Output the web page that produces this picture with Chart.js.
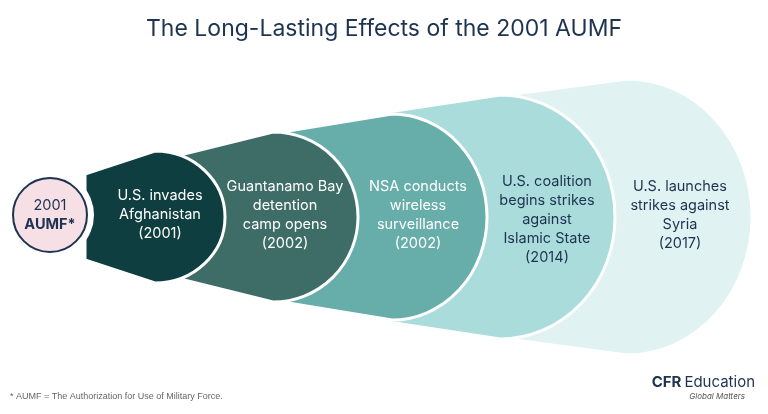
<!DOCTYPE html>
<html><head><meta charset="utf-8">
<script src="https://cdn.jsdelivr.net/npm/chart.js@4"></script>
<style>html,body{margin:0;padding:0;background:#fff;}#w{position:relative;width:768px;height:414px;}</style>
</head><body><div id="w"><canvas id="c" width="768" height="414"></canvas></div>
<script>
const stages = [
  ["2001", "AUMF*"],
  ["U.S. invades", "Afghanistan", "(2001)"],
  ["Guantanamo Bay", "detention", "camp opens", "(2002)"],
  ["NSA conducts", "wireless", "surveillance", "(2002)"],
  ["U.S. coalition", "begins strikes", "against", "Islamic State", "(2014)"],
  ["U.S. launches", "strikes against", "Syria", "(2017)"]
];
const years = [2001, 2001, 2002, 2002, 2014, 2017];
const title = "The Long-Lasting Effects of the 2001 AUMF";
const footnote = "* AUMF = The Authorization for Use of Military Force.";

// layout geometry (in axis units = px)
const geom = [
  {cx:50, rx:37, ry:37, x0:0, h0:0, tx:50, ty:215},
  {cx:155, rx:70, ry:66, x0:85, h0:43, tx:160, ty:215},
  {cx:273, rx:85, ry:85, x0:172, h0:60, tx:285, ty:215},
  {cx:392, rx:95, ry:103, x0:282, h0:85, tx:418, ty:215},
  {cx:500, rx:115, ry:122, x0:388, h0:105, tx:547, ty:220},
  {cx:627, rx:125, ry:138, x0:492, h0:120, tx:680, ty:215}
];
const fills = ["#f6dfe5","#0e3e40","#3e6d68","#67aeaa","#abdcdc","#e0f2f2"];
const textCol = ["#1d3350","#ffffff","#ffffff","#ffffff","#1d3350","#1d3350"];
const CY = 217;

const shapes = {
  id:'shapes',
  beforeDatasetsDraw(chart){
    const {ctx, scales:{x,y}} = chart;
    const px=v=>x.getPixelForValue(v), py=v=>y.getPixelForValue(v);
    ctx.save();
    for(let i=geom.length-1;i>=1;i--){
      const g=geom[i];
      const cx=px(g.cx), cy=py(CY), rx=px(g.cx+g.rx)-cx, ry=Math.abs(py(CY+g.ry)-cy);
      ctx.beginPath();
      ctx.moveTo(px(g.x0), py(CY-g.h0));
      ctx.lineTo(cx, cy-ry);
      ctx.ellipse(cx, cy, rx, ry, 0, -Math.PI/2, Math.PI/2);
      ctx.lineTo(px(g.x0), py(CY+g.h0));
      ctx.closePath();
      ctx.fillStyle=fills[i]; ctx.fill();
      ctx.strokeStyle='#fff'; ctx.lineWidth=3; ctx.stroke();
    }
    // white halo + circle
    const g=geom[0];
    ctx.beginPath(); ctx.arc(px(g.cx), py(CY-2), g.rx+7, 0, Math.PI*2); ctx.fillStyle='#fff'; ctx.fill();
    ctx.beginPath(); ctx.arc(px(g.cx), py(CY-2), g.rx, 0, Math.PI*2);
    ctx.fillStyle=fills[0]; ctx.fill(); ctx.strokeStyle='#1d3350'; ctx.lineWidth=2; ctx.stroke();
    // texts
    ctx.textAlign='center'; ctx.textBaseline='middle';
    stages.forEach((lines,i)=>{
      const gg=geom[i]; const lh=19; const n=lines.length;
      lines.forEach((t,j)=>{
        ctx.font=(i===0&&j===1?'bold ':'')+'14.5px Inter, "Noto Sans", sans-serif';
        ctx.fillStyle=textCol[i];
        ctx.fillText(t, px(gg.tx), py(gg.ty + (j-(n-1)/2)*lh));
      });
    });
    // footnote and logo
    ctx.textAlign='left'; ctx.font='9px "Liberation Sans", sans-serif'; ctx.fillStyle='#666';
    ctx.fillText(footnote, 10, 397);
    ctx.textAlign='right'; ctx.fillStyle='#1d3350';
    ctx.font='15px Inter, sans-serif'; ctx.fillText('Education', 755, 382);
    const w=ctx.measureText('Education').width;
    ctx.font='bold 15px Inter, sans-serif'; ctx.fillText('CFR', 755-w-3, 382);
    ctx.font='italic 8px Inter, sans-serif'; ctx.fillStyle='#555'; ctx.fillText('Global Matters', 745, 397);
    ctx.restore();
  }
};

new Chart(document.getElementById('c'), {
  type:'scatter',
  data:{datasets:[{data: geom.map((g,i)=>({x:g.tx,y:g.ty,year:years[i]})), pointRadius:0}]},
  options:{
    responsive:false, animation:false,
    layout:{padding:0},
    scales:{
      x:{type:'linear',min:0,max:768,display:false},
      y:{type:'linear',min:0,max:414,reverse:true,display:false}
    },
    plugins:{legend:{display:false},tooltip:{enabled:false},title:{display:false}}
  },
  plugins:[shapes,{
    id:'ttl',
    afterDraw(chart){
      const ctx=chart.ctx; ctx.save();
      ctx.font='23px Inter, "Noto Sans", sans-serif'; ctx.fillStyle='#1d3350';
      ctx.textAlign='center'; ctx.textBaseline='middle';
      ctx.fillText(title, 384, 29); ctx.restore();
    }
  }]
});
</script></body></html>
